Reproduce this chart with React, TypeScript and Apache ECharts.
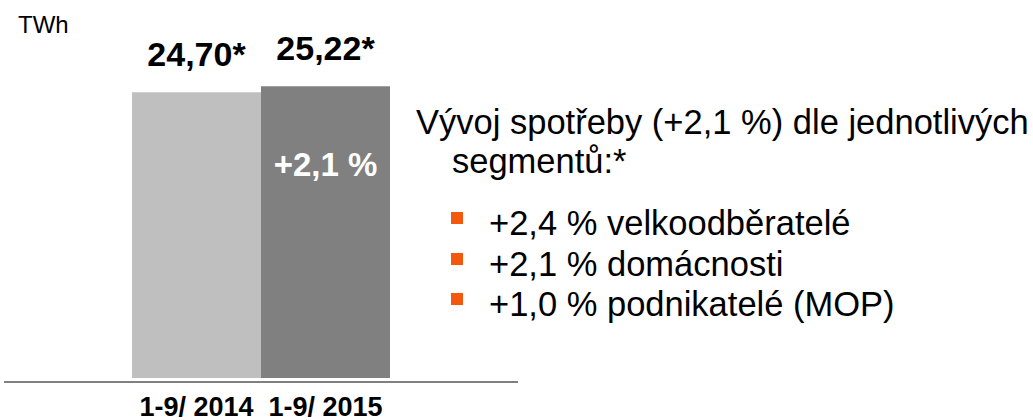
import React, { useEffect, useRef } from "react";
import * as echarts from "echarts";

const categories = ["1-9/ 2014", "1-9/ 2015"];
const values = [24.7, 25.22];
const barColors = ["#bfbfbf", "#808080"];
const growthLabel = ["", "+2,1 %"];
const unitLabel = "TWh";
const headline = ["Vývoj spotřeby (+2,1 %) dle jednotlivých", "segmentů:*"];
const segmentLines = ["+2,4 % velkoodběratelé", "+2,1 % domácnosti", "+1,0 % podnikatelé (MOP)"];

const FONT = "'Liberation Sans', Arial, sans-serif";

export default function App() {
  const ref = useRef<HTMLDivElement>(null);
  useEffect(() => {
    if (!ref.current) return;
    const chart = echarts.init(ref.current, null, { renderer: "svg" });
    const bulletTops = [205, 246, 286];
    const graphic: any[] = [
      {
        type: "text",
        left: 18,
        top: 12,
        style: { text: unitLabel, font: `24px ${FONT}`, fill: "#000", lineHeight: 24 },
      },
      {
        type: "line",
        shape: { x1: 4, y1: 382, x2: 518, y2: 382 },
        style: { stroke: "#808080", lineWidth: 2 },
        z: 10,
      },
      {
        type: "text",
        left: 416,
        top: 104,
        style: { text: headline[0], font: `34.5px ${FONT}`, fill: "#000", lineHeight: 34 },
      },
      {
        type: "text",
        left: 452,
        top: 143,
        style: { text: headline[1], font: `34.5px ${FONT}`, fill: "#000", lineHeight: 34 },
      },
    ];
    segmentLines.forEach((t, i) => {
      graphic.push({
        type: "rect",
        shape: { x: 451, y: bulletTops[i] + 7, width: 12, height: 12 },
        style: { fill: "#f4580c" },
      });
      graphic.push({
        type: "text",
        left: 489,
        top: bulletTops[i],
        style: { text: t, font: `34.5px ${FONT}`, fill: "#000", lineHeight: 34 },
      });
    });

    chart.setOption({
      animation: false,
      grid: { left: 132, width: 258, top: 31, bottom: 39 },
      xAxis: {
        type: "category",
        data: categories,
        axisLine: { show: false },
        axisTick: { show: false },
        axisLabel: {
          interval: 0,
          margin: 15,
          fontSize: 27,
          fontWeight: "bold",
          fontFamily: FONT,
          color: "#000",
          lineHeight: 27,
          hideOverlap: false,
        },
      },
      yAxis: { type: "value", min: 0, max: 30, show: false },
      graphic,
      series: [
        {
          type: "bar",
          barCategoryGap: 0,
          barWidth: "100%",
          data: values.map((v, i) => ({ value: v, itemStyle: { color: barColors[i] } })),
          label: {
            show: true,
            position: "top",
            distance: 21,
            fontSize: 34,
            lineHeight: 34,
            fontWeight: "bold",
            fontFamily: FONT,
            color: "#000",
            formatter: (p: any) => p.value.toFixed(2).replace(".", ",") + "*",
          },
        },
        {
          type: "bar",
          barGap: "-100%",
          barWidth: "100%",
          silent: true,
          z: 5,
          data: values.map((v, i) => ({
            value: v,
            itemStyle: { color: "transparent" },
            label: { show: growthLabel[i] !== "" },
          })),
          label: {
            position: ["50%", 78],
            align: "center",
            verticalAlign: "middle",
            fontSize: 33,
            fontWeight: "bold",
            fontFamily: FONT,
            color: "#fff",
            formatter: (p: any) => growthLabel[p.dataIndex],
          },
        },
      ],
    });
    return () => chart.dispose();
  }, []);
  return (
    <div
      ref={ref}
      style={{ position: "fixed", left: 0, top: 0, width: 1033, height: 420, background: "#fff" }}
    />
  );
}
